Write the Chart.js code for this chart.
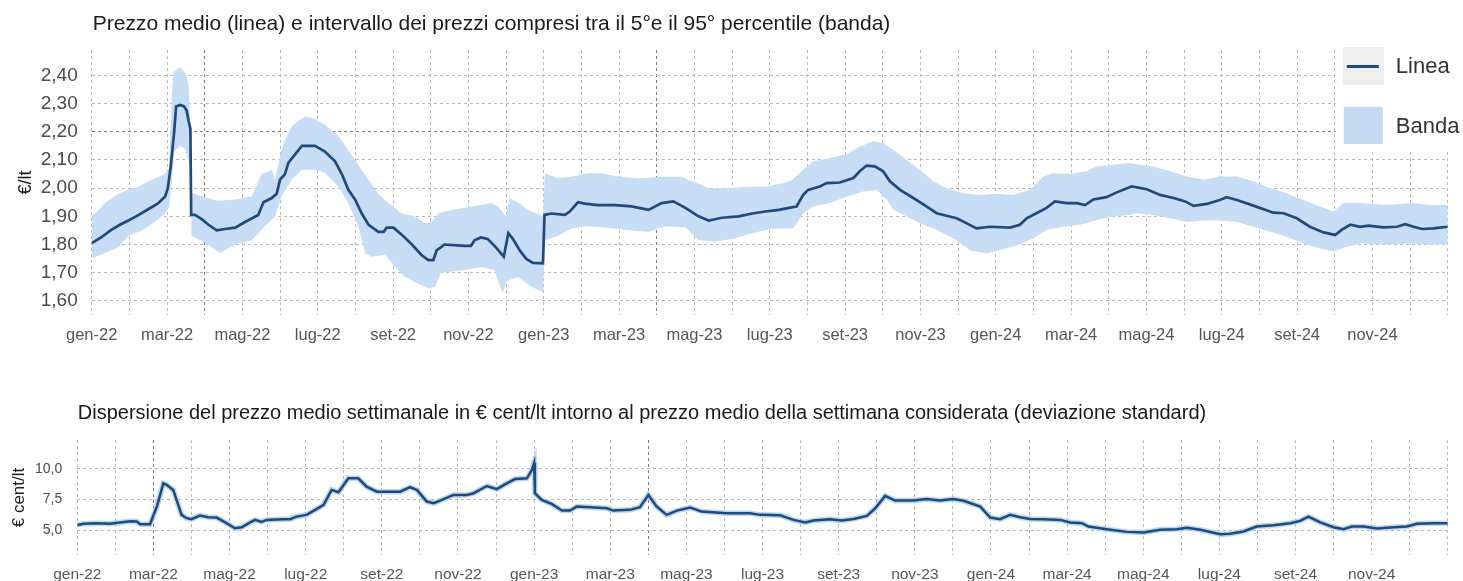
<!DOCTYPE html>
<html><head><meta charset="utf-8">
<script src="https://cdn.jsdelivr.net/npm/chart.js@4"></script>
<style>
html,body{margin:0;padding:0;background:#fff;width:1463px;height:581px;overflow:hidden}
#c1{position:absolute;left:0;top:0}
#c2{position:absolute;left:0;top:385px}
</style></head><body>
<canvas id="c1" width="1463" height="350"></canvas>
<canvas id="c2" width="1463" height="196"></canvas>
<script>
// ---- DATA (x = months since 1 Jan 2022) ----
const tickLabels = ['gen-22','mar-22','mag-22','lug-22','set-22','nov-22','gen-23','mar-23','mag-23','lug-23','set-23','nov-23','gen-24','mar-24','mag-24','lug-24','set-24','nov-24'];
const tickLabelMonths = [0,2,4,6,8,10,12,14,16,18,20,22,24,26,28,30,32,34];
const topYTicks = [1.6,1.7,1.8,1.9,2.0,2.1,2.2,2.3,2.4];
const botYTicks = [5.0,7.5,10.0];

const meanM = [0,0.25,0.5,0.75,1.0,1.25,1.5,1.75,1.95,2.02,2.1,2.19,2.24,2.35,2.45,2.52,2.57,2.62,2.64,2.74,2.92,3.1,3.32,3.54,3.81,4.07,4.42,4.56,4.78,4.91,5.0,5.13,5.22,5.40,5.58,5.93,6.19,6.46,6.64,6.81,6.99,7.17,7.35,7.61,7.75,7.83,8.01,8.23,8.50,8.76,8.94,9.07,9.16,9.27,9.36,9.89,10.07,10.16,10.33,10.51,10.73,10.94,11.06,11.18,11.36,11.53,11.71,11.98,12.02,12.2,12.56,12.69,12.91,13.09,13.44,13.89,14.33,14.78,15.13,15.44,15.76,16.11,16.38,16.73,17.18,17.53,17.89,18.24,18.51,18.71,18.89,19.02,19.33,19.51,19.86,20.22,20.39,20.57,20.79,21.01,21.19,21.46,21.81,22.16,22.43,22.96,23.23,23.49,23.85,24.38,24.64,24.82,25.08,25.35,25.57,25.88,26.15,26.37,26.59,26.94,27.21,27.61,28.01,28.36,28.72,29.03,29.25,29.60,29.95,30.13,30.40,30.84,31.37,31.64,31.99,32.34,32.70,33.01,33.18,33.41,33.67,33.89,34.29,34.65,34.87,35.09,35.31,35.62,36.0];
const meanV = [1.805,1.825,1.85,1.87,1.887,1.905,1.925,1.945,1.97,2.0,2.08,2.2,2.29,2.295,2.29,2.275,2.24,2.21,1.905,1.905,1.89,1.87,1.85,1.855,1.86,1.88,1.905,1.95,1.965,1.98,2.03,2.05,2.09,2.12,2.15,2.15,2.13,2.095,2.05,1.995,1.96,1.91,1.87,1.845,1.845,1.86,1.86,1.835,1.80,1.762,1.745,1.745,1.78,1.79,1.80,1.795,1.795,1.815,1.825,1.82,1.79,1.757,1.84,1.82,1.78,1.75,1.735,1.733,1.905,1.91,1.905,1.917,1.95,1.945,1.94,1.94,1.935,1.923,1.947,1.953,1.93,1.90,1.885,1.895,1.90,1.91,1.917,1.923,1.93,1.935,1.976,1.994,2.006,2.018,2.02,2.036,2.06,2.08,2.077,2.06,2.024,1.994,1.965,1.935,1.911,1.893,1.875,1.857,1.863,1.86,1.87,1.893,1.911,1.93,1.953,1.947,1.947,1.94,1.96,1.968,1.985,2.006,1.996,1.976,1.965,1.953,1.937,1.944,1.958,1.968,1.958,1.938,1.913,1.911,1.893,1.863,1.843,1.834,1.852,1.87,1.863,1.867,1.861,1.863,1.872,1.863,1.855,1.857,1.863];

const hiM = [0,0.1,0.35,0.71,0.97,1.24,1.59,1.95,2.05,2.12,2.17,2.34,2.48,2.57,2.63,2.65,2.74,2.92,3.36,3.81,4.25,4.51,4.78,4.87,5.04,5.31,5.66,5.93,6.19,6.55,6.81,7.08,7.35,7.61,7.88,8.23,8.58,8.85,9.03,9.2,9.44,9.89,10.33,10.6,10.78,11.0,11.09,11.31,11.58,11.98,12.03,12.38,12.73,13.18,13.53,13.98,14.51,15.22,15.67,16.02,16.38,16.82,17.44,17.89,18.42,18.6,18.89,19.15,19.6,20.04,20.39,20.75,21.01,21.28,21.63,21.99,22.34,22.69,23.14,23.58,24.02,24.47,24.91,25.26,25.53,25.97,26.41,26.68,27.12,27.52,27.74,28.18,28.63,29.07,29.51,29.95,30.4,30.84,31.28,31.72,32.17,32.61,32.96,33.23,33.67,34.38,35.09,35.53,36.0];
const hiV = [1.905,1.91,1.947,1.98,1.995,2.005,2.03,2.05,2.07,2.3,2.41,2.43,2.41,2.37,2.2,1.98,1.98,1.97,1.955,1.96,1.97,2.05,2.065,2.03,2.14,2.22,2.255,2.245,2.225,2.185,2.135,2.08,2.03,1.98,1.947,1.91,1.90,1.875,1.88,1.91,1.92,1.93,1.94,1.947,1.935,1.90,1.965,1.95,1.923,1.90,2.053,2.035,2.04,2.053,2.053,2.04,2.035,2.04,2.04,2.02,2.0,2.0,2.005,2.005,2.02,2.03,2.065,2.095,2.107,2.12,2.148,2.166,2.16,2.136,2.10,2.065,2.024,2.0,1.982,1.976,1.98,1.976,1.994,2.04,2.053,2.05,2.06,2.077,2.083,2.089,2.085,2.077,2.06,2.041,2.03,2.041,2.041,2.024,2.0,1.982,1.958,1.935,1.917,1.947,1.947,1.94,1.947,1.94,1.94];

const loM = [0,0.35,0.71,0.97,1.33,1.68,1.95,2.05,2.12,2.2,2.34,2.48,2.57,2.63,2.65,2.89,3.19,3.41,3.54,3.89,4.25,4.60,4.87,5.04,5.31,5.58,5.93,6.19,6.55,6.81,7.08,7.26,7.43,7.79,8.05,8.32,8.67,8.94,9.12,9.27,9.89,10.33,10.69,10.91,11.0,11.31,11.67,11.98,12.03,12.38,12.73,13.09,13.62,14.33,14.78,15.22,15.76,16.11,16.56,17.0,17.53,18.07,18.62,18.89,19.15,19.6,20.04,20.48,20.84,21.1,21.28,21.63,21.99,22.43,22.96,23.31,23.76,24.29,24.64,25.0,25.35,25.79,26.24,26.68,27.12,27.52,27.74,28.18,28.63,29.07,29.51,29.95,30.4,30.84,31.28,31.72,32.17,32.61,32.96,33.32,33.67,34.38,35.09,35.53,36.0];
const loV = [1.75,1.77,1.79,1.83,1.85,1.88,1.91,1.93,2.02,2.13,2.15,2.14,2.10,2.05,1.83,1.815,1.79,1.77,1.78,1.805,1.815,1.865,1.90,1.97,2.03,2.065,2.065,2.055,2.005,1.947,1.865,1.77,1.757,1.765,1.72,1.685,1.66,1.645,1.65,1.70,1.71,1.72,1.71,1.626,1.67,1.685,1.65,1.632,1.815,1.83,1.857,1.865,1.86,1.85,1.845,1.865,1.86,1.815,1.81,1.82,1.84,1.857,1.857,1.911,1.935,1.947,1.97,1.988,1.994,1.96,1.923,1.90,1.875,1.852,1.816,1.78,1.768,1.787,1.80,1.822,1.852,1.863,1.87,1.887,1.90,1.905,1.911,1.905,1.893,1.88,1.885,1.885,1.88,1.863,1.846,1.828,1.804,1.787,1.775,1.792,1.804,1.80,1.804,1.80,1.80];

const sdM = [0,0.16,0.51,0.86,1.12,1.39,1.56,1.65,1.91,2.09,2.26,2.35,2.52,2.74,2.87,3.0,3.22,3.44,3.66,3.92,4.14,4.32,4.54,4.67,4.84,4.97,5.41,5.59,5.76,6.02,6.25,6.47,6.68,6.86,7.12,7.38,7.60,7.87,8.13,8.48,8.74,8.92,9.18,9.36,9.53,9.88,10.23,10.41,10.76,11.02,11.28,11.50,11.81,11.94,12.0,12.02,12.2,12.46,12.73,12.94,13.12,13.47,13.91,14.08,14.52,14.78,15.0,15.22,15.48,15.75,16.1,16.4,17.06,17.67,17.94,18.46,18.81,19.12,19.34,19.77,20.08,20.39,20.74,20.96,21.22,21.48,21.96,22.31,22.66,23.01,23.28,23.72,23.98,24.24,24.50,24.77,25.03,25.38,25.82,26.08,26.39,26.56,27.04,27.57,28.01,28.44,28.88,29.14,29.50,30.02,30.28,30.63,30.98,31.42,31.86,32.12,32.34,32.65,33.0,33.26,33.48,33.79,34.14,34.57,34.92,35.19,35.62,36.0];
const sdV = [5.43,5.52,5.57,5.52,5.62,5.73,5.71,5.49,5.49,6.93,8.83,8.70,8.29,6.25,5.98,5.90,6.20,6.06,6.03,5.57,5.16,5.24,5.63,5.84,5.68,5.84,5.90,5.90,6.11,6.25,6.66,7.07,8.29,8.10,9.24,9.24,8.56,8.15,8.15,8.15,8.51,8.29,7.34,7.20,7.42,7.88,7.88,8.02,8.61,8.35,8.83,9.18,9.24,9.92,10.5,8.02,7.47,7.15,6.60,6.60,6.93,6.88,6.79,6.60,6.66,6.88,7.88,6.93,6.25,6.60,6.85,6.52,6.39,6.39,6.25,6.22,5.84,5.63,5.79,5.90,5.79,5.92,6.17,6.79,7.80,7.42,7.42,7.55,7.42,7.55,7.40,6.93,6.03,5.90,6.25,6.06,5.92,5.90,5.84,5.63,5.57,5.30,5.08,4.86,4.81,5.03,5.08,5.19,5.03,4.67,4.70,4.89,5.30,5.41,5.57,5.76,6.11,5.63,5.24,5.08,5.30,5.30,5.14,5.24,5.30,5.52,5.57,5.57];

// ---- STYLE ----
const FONT = "'Liberation Sans', Arial, sans-serif";
const LINE = '#1f4a7b';
const BAND = '#c7ddf5';
const GRID = '#b9b9b9';
const GRID_DARK = '#7a7a7a';
Chart.defaults.font.family = FONT;

const pts = (xs, ys) => xs.map((x, i) => ({x: x, y: ys[i]}));
const months = Array.from({length: 37}, (_, i) => i);
const labelFor = v => { const k = tickLabelMonths.indexOf(v); return k >= 0 ? tickLabels[k] : ''; };

const textPlugin = items => ({
  id: 'txt',
  afterDraw(chart) {
    const c = chart.ctx;
    items(chart).forEach(t => {
      c.save();
      c.font = t.font; c.fillStyle = t.color || '#1a1a1a';
      c.textAlign = t.align || 'left'; c.textBaseline = t.base || 'alphabetic';
      c.translate(t.x, t.y); if (t.rot) c.rotate(t.rot);
      c.fillText(t.text, 0, 0);
      c.restore();
    });
  }
});

const legendPlugin = {
  id: 'customLegend',
  afterDatasetsDraw(chart) {
    const c = chart.ctx, r = chart.chartArea.right;
    c.save();
    c.fillStyle = '#fff'; c.fillRect(r - 112, 43, 140, 108);
    c.fillStyle = '#eeeeee'; c.fillRect(r - 105, 47, 41, 38);
    c.strokeStyle = LINE; c.lineWidth = 3;
    c.beginPath(); c.moveTo(r - 101, 66.5); c.lineTo(r - 69, 66.5); c.stroke();
    c.fillStyle = '#c4daf2'; c.fillRect(r - 104, 107, 39, 37);
    c.fillStyle = '#333'; c.font = '22px ' + FONT; c.textBaseline = 'middle'; c.textAlign = 'left';
    c.fillText('Linea', r - 52, 67);
    c.fillText('Banda', r - 52, 127);
    c.restore();
  }
};

// ---- TOP CHART ----
new Chart(document.getElementById('c1'), {
  type: 'line',
  data: { datasets: [
    { label: 'Linea', data: pts(meanM, meanV), borderColor: LINE, borderWidth: 2.7, pointRadius: 0, fill: false, tension: 0 },
    { label: 'lo', data: pts(loM, loV), borderWidth: 0, borderColor: 'rgba(0,0,0,0)', pointRadius: 0, fill: false, tension: 0 },
    { label: 'Banda', data: pts(hiM, hiV), borderWidth: 0, borderColor: 'rgba(0,0,0,0)', backgroundColor: BAND, pointRadius: 0, fill: '-1', tension: 0 }
  ]},
  options: {
    responsive: false, animation: false, events: [],
    layout: { padding: { left: 0, right: 15.2, top: 50, bottom: 0 } },
    plugins: { legend: { display: false }, tooltip: { enabled: false }, title: { display: false } },
    scales: {
      x: {
        type: 'linear', min: 0, max: 36,
        afterBuildTicks: s => { s.ticks = months.map(v => ({value: v})); },
        afterFit: s => { s.height = 35; },
        grid: { color: c => (c.tick && (c.tick.value === 3 || c.tick.value === 15)) ? GRID_DARK : GRID, lineWidth: 1, drawTicks: false },
        border: { display: false, dash: [3, 3] },
        ticks: { autoSkip: false, maxRotation: 0, padding: 11, color: '#555', font: { size: 16.5 }, callback: v => labelFor(v) }
      },
      y: {
        type: 'linear', min: 1.55, max: 2.49,
        afterBuildTicks: s => { s.ticks = topYTicks.map(v => ({value: v})); },
        afterFit: s => { s.width = 91.7; },
        grid: { color: c => (c.tick && Math.abs(c.tick.value - 2.2) < 1e-6) ? GRID_DARK : GRID, lineWidth: 1, drawTicks: false },
        border: { display: false, dash: [3, 3] },
        ticks: { padding: 14, color: '#4a4a4a', font: { size: 19 }, callback: v => v.toFixed(2).replace('.', ',') }
      }
    }
  },
  plugins: [legendPlugin, textPlugin(ch => [
    { text: 'Prezzo medio (linea) e intervallo dei prezzi compresi tra il 5°e il 95° percentile (banda)', x: ch.chartArea.left + 1, y: 30, font: '21px ' + FONT, color: '#1a1a1a' },
    { text: '€/lt', x: 26, y: (ch.chartArea.top + ch.chartArea.bottom) / 2, rot: -Math.PI / 2, align: 'center', base: 'middle', font: '18px ' + FONT, color: '#1a1a1a' }
  ])]
});

// ---- BOTTOM CHART ----
new Chart(document.getElementById('c2'), {
  type: 'line',
  data: { datasets: [
    { label: 'Deviazione standard', data: pts(sdM, sdV), borderColor: LINE, borderWidth: 2.5, pointRadius: 0, fill: false, tension: 0 },
    { label: 'alone', data: pts(sdM, sdV), borderColor: 'rgba(175,208,240,0.85)', borderWidth: 5.5, pointRadius: 0, fill: false, tension: 0 }
  ]},
  options: {
    responsive: false, animation: false, events: [],
    layout: { padding: { left: 0, right: 15.2, top: 55, bottom: 0 } },
    plugins: { legend: { display: false }, tooltip: { enabled: false }, title: { display: false } },
    scales: {
      x: {
        type: 'linear', min: 0, max: 36,
        afterBuildTicks: s => { s.ticks = months.map(v => ({value: v})); },
        afterFit: s => { s.height = 26; },
        grid: { color: c => (c.tick && (c.tick.value === 2 || c.tick.value === 15)) ? GRID_DARK : GRID, lineWidth: 1, drawTicks: false },
        border: { display: false, dash: [3, 3] },
        ticks: { autoSkip: false, maxRotation: 0, padding: 10, color: '#555', font: { size: 15.5 }, callback: v => labelFor(v) }
      },
      y: {
        type: 'linear', min: 2.97, max: 12.37,
        afterBuildTicks: s => { s.ticks = botYTicks.map(v => ({value: v})); },
        afterFit: s => { s.width = 77.3; },
        grid: { color: GRID, lineWidth: 1, drawTicks: false },
        border: { display: false, dash: [3, 3] },
        ticks: { padding: 15, color: '#4a4a4a', font: { size: 14 }, callback: v => v.toFixed(1).replace('.', ',') }
      }
    }
  },
  plugins: [textPlugin(ch => [
    { text: 'Dispersione del prezzo medio settimanale in € cent/lt intorno al prezzo medio della settimana considerata (deviazione standard)', x: ch.chartArea.left + 0.5, y: 34, font: '20px ' + FONT, color: '#1a1a1a' },
    { text: '€ cent/lt', x: 19, y: (ch.chartArea.top + ch.chartArea.bottom) / 2, rot: -Math.PI / 2, align: 'center', base: 'middle', font: '17px ' + FONT, color: '#1a1a1a' }
  ])]
});
</script>
</body></html>
